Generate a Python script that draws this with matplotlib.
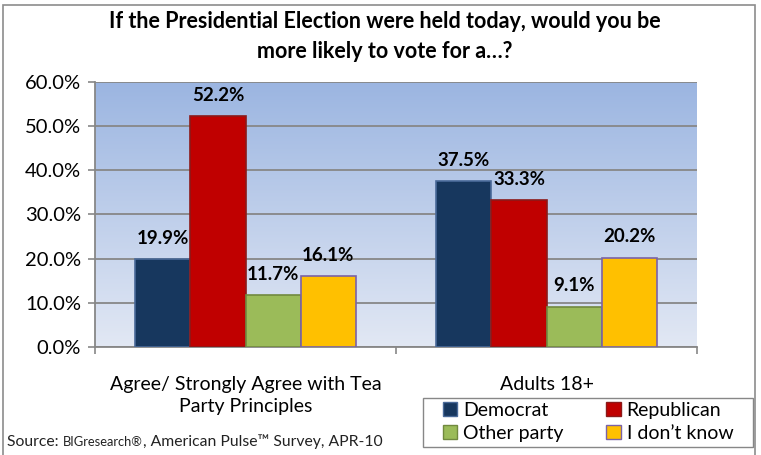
import matplotlib.pyplot as plt
import matplotlib.patches as mpatches
import numpy as np

plt.rcParams['font.family'] = ['Lato', 'DejaVu Sans']

categories = ['Agree/ Strongly Agree with Tea\nParty Principles', 'Adults 18+']
series = ['Democrat', 'Republican', 'Other party', 'I don\u2019t know']
values = {
    'Democrat': [19.9, 37.5],
    'Republican': [52.2, 33.3],
    'Other party': [11.7, 9.1],
    'I don\u2019t know': [16.1, 20.2],
}
colors = ['#17375E', '#C00000', '#9BBB59', '#FFC000']
edges = ['#4A6A99', '#8C1A1A', '#71893F', '#7A62A8']
yticks = [0, 10, 20, 30, 40, 50, 60]

fig = plt.figure(figsize=(7.61, 4.55), dpi=100)
ax = fig.add_axes([95 / 761, 1 - 347 / 455, 602 / 761, 265 / 455])

# gradient background of the plot area
grad = np.linspace(0, 1, 256).reshape(-1, 1)
top = np.array([0x9B, 0xB5, 0xE1]) / 255
bot = np.array([0xE2, 0xE8, 0xF4]) / 255
img = bot + (top - bot) * grad[..., None]
ax.imshow(img, extent=[-0.5, 1.5, 0, 60], origin='lower', aspect='auto', zorder=0)

x = np.arange(len(categories))
w = 0.183
for i, s in enumerate(series):
    pos = x + (i - 1.5) * w
    bars = ax.bar(pos, values[s], w, color=colors[i], edgecolor=edges[i],
                  linewidth=1.2, zorder=3, label=s)
    for b, v in zip(bars, values[s]):
        ax.annotate(f'{v:.1f}%', (b.get_x() + b.get_width() / 2, v),
                    xytext=(0, 15), textcoords='offset points',
                    ha='center', va='center', fontsize=13.5, fontweight='bold', zorder=4)

ax.set_xlim(-0.5, 1.5)
ax.set_ylim(0, 60)
ax.set_yticks(yticks)
ax.set_yticklabels([f'{t:.1f}%' for t in yticks], fontsize=14.5)
ax.yaxis.grid(True, color='#878787', linewidth=1.3, zorder=1)
ax.set_axisbelow(False)
for t in ax.yaxis.get_gridlines():
    t.set_zorder(1)

ax.set_xticks([-0.5, 0.5, 1.5])
ax.set_xticklabels([])
ax.tick_params(axis='both', color='#878787', length=5, width=1.2)
ax.tick_params(axis='y', pad=5)
for c, lab in zip(x, categories):
    ax.text(c, -6.5, lab, ha='center', va='top', fontsize=14, linespacing=1.4)

for sp in ['top', 'right']:
    ax.spines[sp].set_visible(False)
for sp in ['left', 'bottom']:
    ax.spines[sp].set_color('#878787')
    ax.spines[sp].set_linewidth(1.3)

fig.text(385 / 761, 1 - 22 / 455, 'If the Presidential Election were held today, would you be',
         ha='center', va='center', fontsize=15.5, fontweight='bold')
fig.text(385 / 761, 1 - 52 / 455, 'more likely to vote for a\u2026?',
         ha='center', va='center', fontsize=15.5, fontweight='bold')

# legend fills column-wise, so order handles to read row-wise
order = [0, 2, 1, 3]
handles = [mpatches.Patch(facecolor=colors[i], edgecolor=edges[i], label=series[i])
           for i in order]
leg = fig.legend(handles=handles, ncol=2, loc='center',
                 bbox_to_anchor=(588 / 761, 1 - 422 / 455), fontsize=14,
                 frameon=False, borderaxespad=0,
                 handlelength=0.75, handleheight=0.75, handletextpad=0.3,
                 columnspacing=2.2, borderpad=0, labelspacing=0.3)
fig.add_artist(mpatches.Rectangle((423 / 761, 1 - 447 / 455), 330 / 761, 49 / 455,
                                  transform=fig.transFigure, fill=False,
                                  edgecolor='#878787', linewidth=1.0))

# source line with smaller brand name
fig.canvas.draw()
r = fig.canvas.get_renderer()
xpos = 7 / 761
ybase = 1 - 446 / 455
for txt, fs in [('Source: ', 11.3), ('BIGresearch\u00ae', 9.3), (', American Pulse\u2122 Survey, APR-10', 11.3)]:
    t = fig.text(xpos, ybase, txt, ha='left', va='baseline', fontsize=fs, color='#222222')
    bb = t.get_window_extent(r)
    xpos += bb.width / fig.bbox.width

# outer chart frame
fig.add_artist(mpatches.Rectangle((3 / 761, -0.05), 752 / 761, 1 - 5 / 455 + 0.05,
                                  transform=fig.transFigure, fill=False,
                                  edgecolor='#8C8C8C', linewidth=1.2))

fig.savefig('out.png', dpi=100)
